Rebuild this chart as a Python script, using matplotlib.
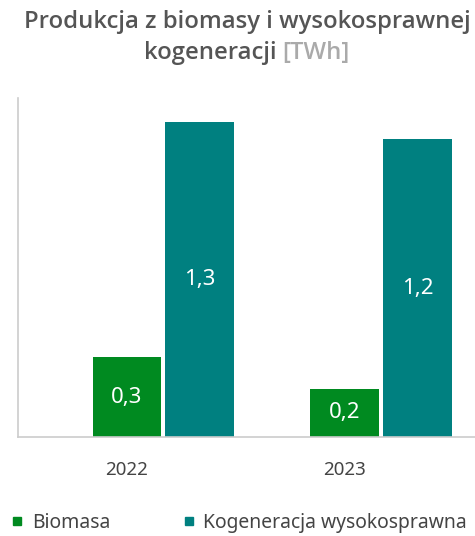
import numpy as np
import matplotlib.pyplot as plt
from matplotlib.lines import Line2D

plt.rcParams['font.family'] = ['Noto Sans', 'DejaVu Sans']

# data
years = ['2022', '2023']
biomasa = [0.33, 0.20]
kogeneracja = [1.30, 1.23]
labels_bio = ['0,3', '0,2']
labels_kog = ['1,3', '1,2']

c_green = '#008a20'
c_teal = '#008080'

fig = plt.figure(figsize=(4.75, 5.36), dpi=100)
ax = fig.add_axes([18/475, (536-437)/536, 1 - 18/475, (437-98)/536])

x = np.arange(len(years))
w = 0.315
b1 = ax.bar(x, biomasa, w, color=c_green)
b2 = ax.bar(x + 0.335, kogeneracja, w, color=c_teal)

for bars, labs in ((b1, labels_bio), (b2, labels_kog)):
    for b, t in zip(bars, labs):
        ax.text(b.get_x() + b.get_width()/2, b.get_height()/2, t,
                ha='center', va='center', color='white', fontsize=16)

ax.set_xlim(-0.5, 1.6)
ax.set_ylim(0, 1.4)
ax.set_xticks(x)
ax.set_xticklabels(years, fontsize=13.5, color='#444444')
ax.tick_params(axis='x', length=0, pad=17)
ax.set_yticks([])
for s in ['top', 'right']:
    ax.spines[s].set_visible(False)
for s in ['left', 'bottom']:
    ax.spines[s].set_color('#cccccc')
    ax.spines[s].set_linewidth(1.2)

# title, centred, two lines
tf = dict(fontsize=17.2, fontweight='semibold', family=['Open Sans', 'DejaVu Sans'])
fig.text(247/475, 1 - 22/536, 'Produkcja z biomasy i wysokosprawnej',
         ha='center', va='center', color='#555555', **tf)
fig.canvas.draw()
r = fig.canvas.get_renderer()
t1 = fig.text(0, 1 - 53/536, 'kogeneracji ', ha='left', va='center', color='#555555', **tf)
t2 = fig.text(0, 1 - 53/536, '[TWh]', ha='left', va='center', color='#aaaaaa', **tf)
w1 = t1.get_window_extent(r).width
w2 = t2.get_window_extent(r).width
x0 = 247 - (w1 + w2)/2
t1.set_x(x0/475)
t2.set_x((x0 + w1)/475)

# legend
handles = [Line2D([], [], marker='s', ls='', color=c_green, markersize=6),
           Line2D([], [], marker='s', ls='', color=c_teal, markersize=6)]
fig.legend(handles, ['Biomasa', 'Kogeneracja wysokosprawna'], ncol=2,
           loc='center left', bbox_to_anchor=(-0.012, 1 - 523/536), frameon=False,
           fontsize=13.9, handlelength=0.6, handletextpad=0.45, columnspacing=3.75,
           labelcolor='#444444')

fig.savefig('out.png', dpi=100)
